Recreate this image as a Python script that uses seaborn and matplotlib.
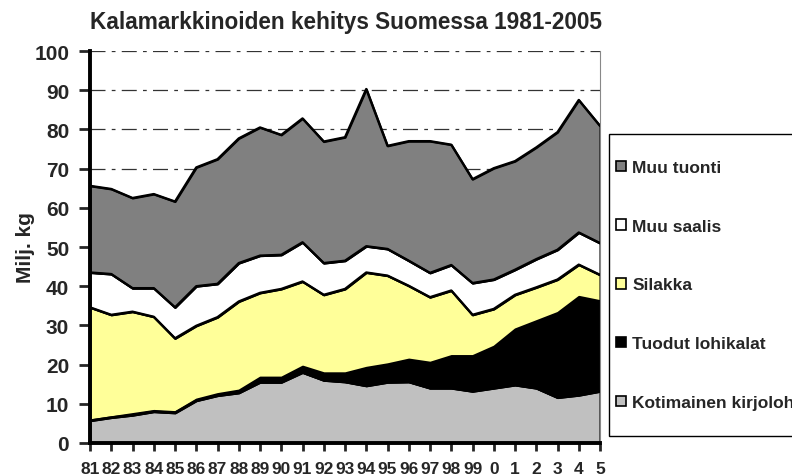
import matplotlib
matplotlib.use('Agg')
import matplotlib.pyplot as plt
from matplotlib.patches import Patch, Rectangle
import seaborn as sns
import pandas as pd

sns.set_style("white")
plt.rcParams['font.family'] = ['Liberation Sans', 'DejaVu Sans']
plt.rcParams['font.weight'] = 'bold'

years = ['81', '82', '83', '84', '85', '86', '87', '88', '89', '90', '91', '92', '93',
         '94', '95', '96', '97', '98', '99', '0', '1', '2', '3', '4', '5']

# million kg per year, bottom to top
kotimainen = [5.7, 6.5, 7.1, 8.0, 7.7, 10.8, 12.1, 12.8, 15.5, 15.5, 18.0, 16.0, 15.6,
              14.6, 15.5, 15.6, 14.0, 14.0, 13.2, 14.0, 14.8, 14.0, 11.6, 12.2, 13.2]
tuodut = [0.2, 0.2, 0.4, 0.3, 0.3, 0.4, 0.5, 0.7, 1.3, 1.3, 1.6, 1.9, 2.3,
          4.7, 4.7, 5.8, 6.6, 8.3, 9.1, 10.7, 14.3, 17.2, 21.7, 25.2, 23.1]
silakka = [28.7, 26.0, 26.0, 23.9, 18.7, 18.7, 19.5, 22.6, 21.5, 22.5, 21.6, 19.9, 21.4,
           24.2, 22.5, 18.7, 16.6, 16.6, 10.4, 9.5, 8.7, 8.5, 8.4, 8.1, 6.6]
muu_saalis = [8.9, 10.4, 6.0, 7.3, 7.9, 10.1, 8.5, 9.8, 9.5, 8.7, 10.0, 8.1, 7.2,
              6.7, 6.8, 6.4, 6.2, 6.5, 8.1, 7.5, 6.4, 7.2, 7.6, 8.2, 8.1]
muu_tuonti = [22.1, 21.7, 23.0, 24.0, 27.0, 30.3, 31.8, 31.8, 32.7, 30.6, 31.6, 31.0, 31.5,
              40.1, 26.3, 30.5, 33.6, 30.7, 26.5, 28.4, 27.7, 28.5, 30.0, 33.8, 29.9]

labels = ['Kotimainen kirjolohi', 'Tuodut lohikalat', 'Silakka', 'Muu saalis', 'Muu tuonti']
colors = ['#c0c0c0', '#000000', '#ffff99', '#ffffff', '#808080']

df = pd.DataFrame({'x': range(len(years)), 'Kotimainen kirjolohi': kotimainen,
                   'Tuodut lohikalat': tuodut, 'Silakka': silakka,
                   'Muu saalis': muu_saalis, 'Muu tuonti': muu_tuonti})

fig = plt.figure(figsize=(7.92, 4.77), dpi=100)
ax = fig.add_axes([90 / 792, 1 - 444 / 477, 510 / 792, 392 / 477])

ax.stackplot(df['x'], [df[c] for c in labels], colors=colors,
             edgecolor='black', linewidth=1.5, zorder=2)

# boundary lines between bands
cum = df[labels].cumsum(axis=1)
for c in labels:
    if c == 'Tuodut lohikalat':
        continue
    sns.lineplot(x=df['x'], y=cum[c], color='black', linewidth=1.7, ax=ax, zorder=3)

ax.set_xlim(0, len(years) - 1)
ax.set_ylim(0, 100)
ax.set_yticks(range(0, 101, 10))
ax.set_xticks(range(len(years)))
ax.set_xticklabels(years, fontsize=12.5, fontweight='bold')
ax.tick_params(axis='y', labelsize=15, length=8, width=2, direction='out', pad=7, left=True)
ax.tick_params(axis='x', length=6, width=2, direction='out', pad=7, bottom=True)
for lab in ax.get_yticklabels():
    lab.set_fontweight('bold')

ax.grid(axis='y', color='#333333', linewidth=0.9, linestyle=(0, (12, 5, 3, 5)), zorder=0)
ax.set_axisbelow(True)

ax.spines['left'].set_linewidth(2.8)
ax.spines['bottom'].set_linewidth(2.8)
ax.spines['left'].set_color('black')
ax.spines['bottom'].set_color('black')
ax.spines['top'].set_visible(False)
ax.spines['right'].set_color('#888888')
ax.spines['right'].set_linewidth(0.8)

ax.set_xlabel('')
ax.set_ylabel('Milj. kg', fontsize=15, fontweight='bold')
ax.yaxis.set_label_coords(-0.108, 0.5)

fig.text(346 / 792, 1 - 23 / 477, 'Kalamarkkinoiden kehitys Suomessa 1981-2005',
         ha='center', va='center', fontsize=16.3, fontweight='bold')

# legend frame drawn separately so it can run past the right edge like the original
fig.patches.append(Rectangle((609 / 792, 1 - 437 / 477), 200 / 792, 302 / 477,
                             transform=fig.transFigure, facecolor='white',
                             edgecolor='black', linewidth=1.0, zorder=1))

handles = [Patch(facecolor=col, edgecolor='black', linewidth=1.2) for col in colors][::-1]
leg = fig.legend(handles, labels[::-1], loc='center left',
                 bbox_to_anchor=(616 / 792, 1 - 286 / 477), bbox_transform=fig.transFigure,
                 frameon=False, prop={'weight': 'bold', 'size': 12.5},
                 handlelength=0.55, handleheight=0.55, handletextpad=0.4,
                 labelspacing=2.52, borderpad=0, borderaxespad=0)

fig.savefig('out.png', dpi=100)
